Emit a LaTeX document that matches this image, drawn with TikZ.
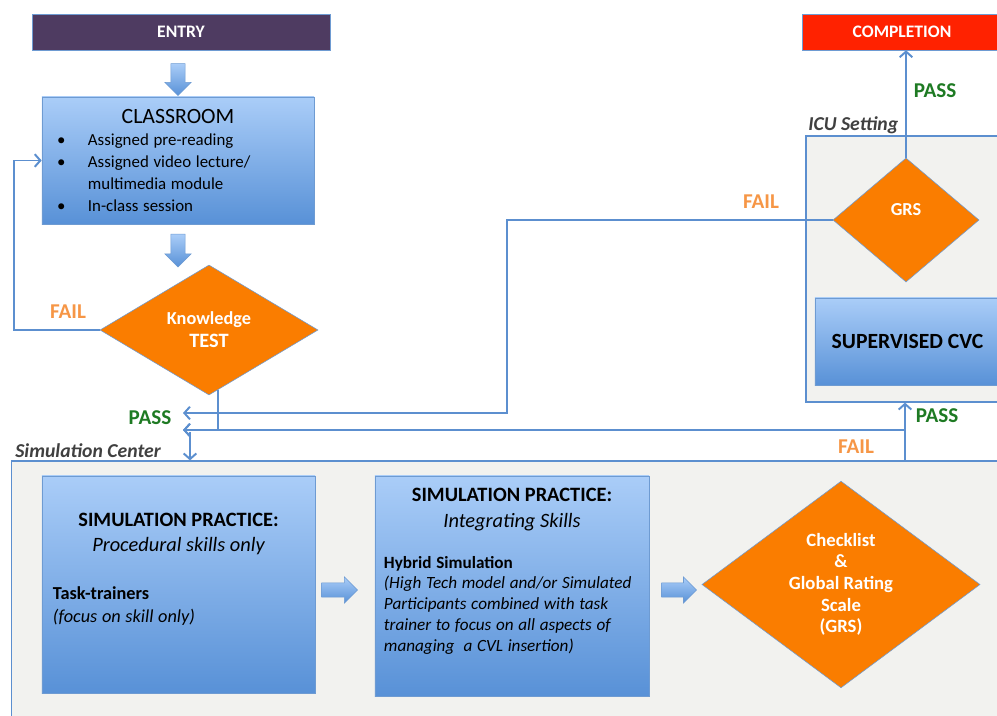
\documentclass[tikz,border=0pt]{standalone}
\usepackage{fontspec}
\setmainfont{Carlito}
\usetikzlibrary{shapes.geometric, shapes.arrows, arrows.meta, shadows}
\hyphenpenalty=10000

\definecolor{boxtop}{RGB}{170,205,248}
\definecolor{boxbot}{RGB}{88,145,215}
\definecolor{boxline}{RGB}{110,155,210}
\definecolor{flowblue}{RGB}{92,143,207}
\definecolor{testorange}{RGB}{250,125,0}
\definecolor{failorange}{RGB}{246,150,70}
\definecolor{passgreen}{RGB}{30,122,35}
\definecolor{entrypurple}{RGB}{78,59,97}
\definecolor{donered}{RGB}{255,34,0}
\definecolor{settinggray}{RGB}{242,242,239}

\tikzstyle{process} = [rectangle, draw=boxline, top color=boxtop, bottom color=boxbot, drop shadow={opacity=0.25, shadow xshift=0.6pt, shadow yshift=-0.8pt}, inner sep=0pt]
\tikzstyle{decision} = [diamond, draw=boxline, fill=testorange, text=white, font=\bfseries, align=center, inner sep=0pt]
\tikzstyle{banner} = [rectangle, draw=boxline, text=white, font=\bfseries\fontsize{12.5}{15}\selectfont, inner sep=0pt]
\tikzstyle{setting} = [rectangle, draw=flowblue, line width=0.8pt, fill=settinggray, inner sep=0pt]
\tikzstyle{blockarrow} = [single arrow, draw=boxline, top color=boxtop, bottom color=boxbot, inner sep=0.17cm, single arrow head extend=0.15cm, single arrow head indent=0pt]
\tikzstyle{flow} = [draw=flowblue, line width=1.4pt, -{Straight Barb[length=4pt, width=9pt]}]
\tikzstyle{faillbl} = [text=failorange, font=\bfseries\fontsize{15}{18}\selectfont, inner sep=0pt]
\tikzstyle{passlbl} = [text=passgreen, font=\bfseries\fontsize{15}{18}\selectfont, inner sep=0pt]
\tikzstyle{placelbl} = [text=black!75, font=\bfseries\itshape\fontsize{14}{17}\selectfont, inner sep=0pt]

\begin{document}
\begin{tikzpicture}[x=0.025cm, y=-0.025cm]
\useasboundingbox (0,0) rectangle (997,715);
\clip (0,0) rectangle (997,715);

% settings
\node (simc) [setting, minimum width=24.8cm, minimum height=6.45cm] at (508,590) {};
\node (icu) [setting, minimum width=4.9cm, minimum height=6.65cm] at (904,269) {};
\node (simlbl) [placelbl, anchor=base west] at (15,457) {Simulation Center};
\node (iculbl) [placelbl, anchor=base west] at (808,131) {ICU Setting};

% top row
\node (entry) [banner, fill=entrypurple, minimum width=7.45cm, minimum height=0.9cm] at (181,32) {ENTRY};
\node (completion) [banner, fill=donered, minimum width=5cm, minimum height=0.9cm] at (902,32) {COMPLETION};
\node (arr1) [blockarrow, shape border rotate=270, minimum height=0.8cm] at (178,76) {};

\node (classroom) [process, minimum width=6.8cm, minimum height=3.175cm, text width=6.4cm, align=left] at (178,160.5) {%
{\centering\fontsize{15.5}{18}\selectfont CLASSROOM\par}
\fontsize{12}{15.6}\selectfont
\makebox[0.95cm][l]{\hspace{0.18cm}\textbullet}Assigned pre-reading\par
\makebox[0.95cm][l]{\hspace{0.18cm}\textbullet}Assigned video lecture/\par
\hspace*{0.95cm}multimedia module\par
\makebox[0.95cm][l]{\hspace{0.18cm}\textbullet}In-class session\par};
\node (arr2) [blockarrow, shape border rotate=270, minimum height=0.825cm] at (178,247) {};

\node (test) [decision, minimum width=5.45cm, minimum height=3.25cm, font=\bfseries\fontsize{13}{16.5}\selectfont] at (209,330) {Knowledge\\{\fontsize{14.5}{17}\selectfont TEST}};

% ICU
\node (grs) [decision, minimum width=3.65cm, minimum height=3.1cm, font=\bfseries\fontsize{13}{16}\selectfont] at (906,220) {GRS\\[-0.05cm]};
\node (supervised) [process, minimum width=4.625cm, minimum height=2.175cm, font=\bfseries\fontsize{15.4}{18}\selectfont] at (907.5,341.5) {SUPERVISED CVC};

% simulation center
\node (practice) [process, minimum width=6.825cm, minimum height=5.425cm, text width=6.275cm, align=left] at (178.5,584.5) {%
{\centering\bfseries\fontsize{14.5}{17.8}\selectfont SIMULATION PRACTICE:\par
\mdseries\itshape Procedural skills only\par}
\vspace{0.62cm}
{\fontsize{13}{16.4}\selectfont\textbf{Task-trainers}\par \textit{(focus on skill only)}\par}
\vspace*{0.75cm}\hrule height 0pt};
\node (arr3) [blockarrow, minimum height=0.9cm] at (336,590) {};

\node (hybrid) [process, minimum width=6.85cm, minimum height=5.5cm, text width=6.4cm, align=left] at (512,586) {%
{\centering\bfseries\fontsize{14.5}{18.5}\selectfont SIMULATION PRACTICE:\par
\mdseries\itshape Integrating Skills\par}
\vspace{0.5cm}
{\fontsize{12.2}{14.8}\selectfont\textbf{Hybrid Simulation}\par \itshape (High Tech model and/or Simulated\par Participants combined with task\par trainer to focus on all aspects of\par managing\ \ a CVL insertion)\par}
\vspace*{0.75cm}\hrule height 0pt};
\node (arr4) [blockarrow, minimum height=0.875cm] at (675.5,590) {};

\node (checklist) [decision, minimum width=6.95cm, minimum height=4.875cm, font=\bfseries\fontsize{13.3}{15.4}\selectfont] at (841,584.5) {Checklist\\\&\\Global Rating\\Scale\\(GRS)};

% connectors
\coordinate (loop) at (14,330);
\coordinate (passin) at (183,430);
\coordinate (retake) at (183,413);
\coordinate (bend) at (507,413);
\coordinate (fork) at (905,430);
\coordinate (enter) at (190,432);

\draw [flow] (test.west) -- (loop) |- (classroom.west);
\draw [flow] ([xshift=0.225cm, yshift=0.13cm]test.south) |- (passin);
\draw [flow] (grs.west) -| (bend) -- (retake);
\draw [flow] (fork |- simc.north) -- (fork |- icu.south);
\draw [flow] (fork) -- (passin);
\draw [flow] (enter) -- (enter |- simc.north);
\draw [flow] (grs.north) -- (grs.north |- completion.south);

% labels
\node (fail1) [faillbl, anchor=base] at (68,318) {FAIL};
\node (pass1) [passlbl, anchor=base] at (150,424) {PASS};
\node (fail2) [faillbl, anchor=base] at (761,209) {FAIL};
\node (pass2) [passlbl, anchor=base] at (935,98) {PASS};
\node (fail3) [faillbl, anchor=base] at (856,453) {FAIL};
\node (pass3) [passlbl, anchor=base] at (937,422) {PASS};
\end{tikzpicture}
\end{document}
